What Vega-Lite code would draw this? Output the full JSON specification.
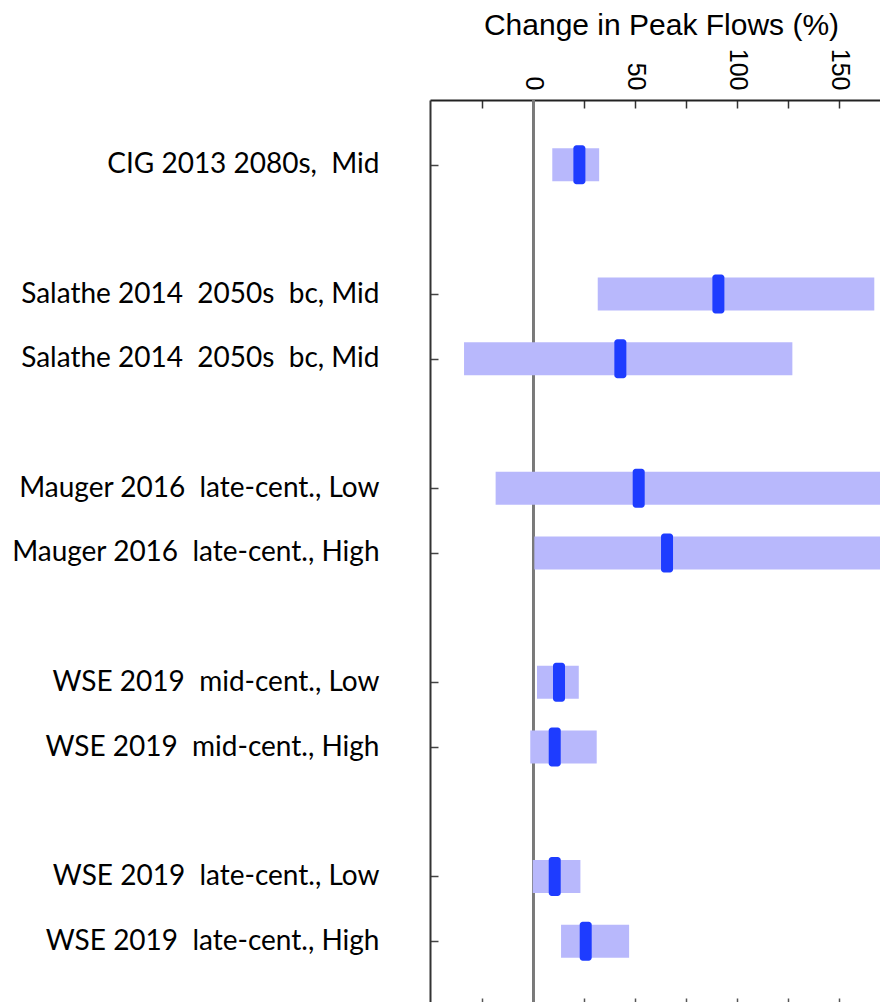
{
  "$schema": "https://vega.github.io/schema/vega-lite/v6.json",
  "autosize": {"type": "none"},
  "padding": {"left": 430, "top": 100, "right": 0, "bottom": 0},
  "width": 450,
  "height": 902,
  "background": "white",
  "config": {"view": {"stroke": null}, "axis": {"grid": false}},
  "datasets": {
    "rows": [
      {"label": "CIG 2013 2080s, \u00a0Mid", "pos": 1, "lo": 9.3, "med": 22.6, "hi": 32.3},
      {"label": "Salathe 2014 \u00a02050s \u00a0bc, Mid", "pos": 3, "lo": 31.6, "med": 90.8, "hi": 167.3},
      {"label": "Salathe 2014 \u00a02050s \u00a0bc, Mid", "pos": 4, "lo": -34.0, "med": 42.7, "hi": 127.1},
      {"label": "Mauger 2016 \u00a0late-cent., Low", "pos": 6, "lo": -18.5, "med": 51.7, "hi": 250},
      {"label": "Mauger 2016 \u00a0late-cent., High", "pos": 7, "lo": 0.5, "med": 65.6, "hi": 280},
      {"label": "WSE 2019 \u00a0mid-cent., Low", "pos": 9, "lo": 1.8, "med": 12.6, "hi": 22.3},
      {"label": "WSE 2019 \u00a0mid-cent., High", "pos": 10, "lo": -1.5, "med": 10.5, "hi": 31.1},
      {"label": "WSE 2019 \u00a0late-cent., Low", "pos": 12, "lo": -0.3, "med": 10.5, "hi": 23.1},
      {"label": "WSE 2019 \u00a0late-cent., High", "pos": 13, "lo": 13.6, "med": 25.7, "hi": 47.0}
    ]
  },
  "data": {"name": "rows"},
  "resolve": {"axis": {"x": "independent"}},
  "layer": [
    {
      "mark": {"type": "rule", "color": "#7a7a7a", "strokeWidth": 2},
      "encoding": {
        "x": {"datum": 0, "type": "quantitative", "axis": null}
      }
    },
    {
      "mark": {"type": "bar", "color": "#b8b8fc", "height": 33, "clip": true},
      "encoding": {
        "x": {
          "field": "lo", "type": "quantitative",
          "scale": {"domain": [-50.7, 170.1], "nice": false, "zero": false, "padding": 0},
          "axis": {
            "orient": "top",
            "title": "Change in Peak Flows (%)",
            "values": [-25, 0, 25, 50, 75, 100, 125, 150],
            "labelExpr": "datum.value % 50 === 0 ? datum.label : ''",
            "labelAngle": 90,
            "labelAlign": "right",
            "labelBaseline": "middle",
            "labelFont": "Liberation Sans",
            "labelFontSize": 25,
            "labelColor": "black",
            "labelPadding": 18,
            "labelFlush": false,
            "labelOverlap": false,
            "tickSize": -8,
            "tickColor": "#333333",
            "tickWidth": 1.5,
            "domainColor": "#222222",
            "domainWidth": 2,
            "titleFont": "Liberation Sans",
            "titleFontSize": 30,
            "titleFontWeight": "normal",
            "titleColor": "black",
            "titlePadding": 8,
            "titleX": 231
          }
        },
        "x2": {"field": "hi"},
        "y": {
          "field": "pos", "type": "quantitative",
          "scale": {"domain": [0, 13.94], "nice": false, "zero": false, "reverse": true, "padding": 0},
          "axis": {
            "orient": "left",
            "title": null,
            "values": [1, 3, 4, 6, 7, 9, 10, 12, 13],
            "labelExpr": "pluck(data('rows'), 'label')[indexof(pluck(data('rows'), 'pos'), datum.value)]",
            "labelFont": "Lato",
            "labelFontSize": 28,
            "labelColor": "black",
            "labelLimit": 600,
            "labelPadding": 59,
            "labelBaseline": "middle",
            "labelOverlap": false,
            "tickSize": -8,
            "tickColor": "#444444",
            "tickWidth": 1.5,
            "domainColor": "#333333",
            "domainWidth": 2
          }
        }
      }
    },
    {
      "mark": {"type": "tick", "orient": "vertical", "color": "#1e3cff", "thickness": 12, "size": 39, "cornerRadius": 3, "opacity": 1},
      "encoding": {
        "x": {
          "field": "med", "type": "quantitative",
          "axis": {
            "orient": "bottom",
            "title": null,
            "values": [-25, 0, 25, 50, 75, 100, 125, 150],
            "labels": false,
            "domain": false,
            "tickSize": -4,
            "tickColor": "#555555",
            "tickWidth": 1.5
          }
        },
        "y": {"field": "pos", "type": "quantitative"}
      }
    }
  ]
}
